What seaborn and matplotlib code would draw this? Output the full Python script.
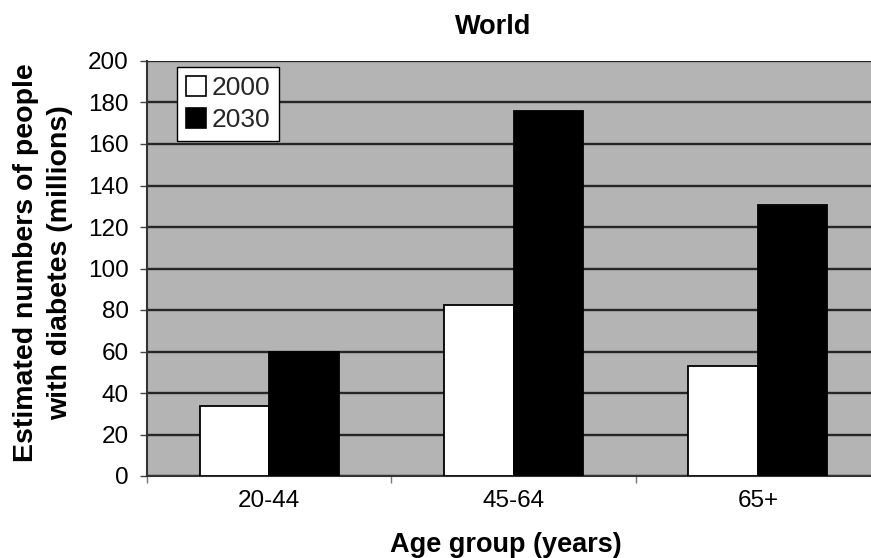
import matplotlib
matplotlib.use("Agg")
import matplotlib.pyplot as plt
import seaborn as sns
import pandas as pd
from matplotlib.patches import Patch
from matplotlib.ticker import FixedLocator

age_groups = ["20-44", "45-64", "65+"]
years = ["2000", "2030"]
values_2000 = [33.5, 82.5, 53]
values_2030 = [60, 176, 130.5]
y_ticks = [0, 20, 40, 60, 80, 100, 120, 140, 160, 180, 200]

df = pd.DataFrame({
    "age": age_groups * 2,
    "year": [years[0]] * 3 + [years[1]] * 3,
    "value": values_2000 + values_2030,
})

sns.set_theme(style="white")
plt.rcParams["font.family"] = ["Liberation Sans", "DejaVu Sans"]

fig = plt.figure(figsize=(8.71, 5.58), dpi=100, facecolor="white")
ax = fig.add_axes([147 / 871, 82 / 558, 733 / 871, 415 / 558])
ax.set_facecolor("#b4b4b4")

sns.barplot(data=df, x="age", y="value", hue="year", order=age_groups,
            hue_order=years, palette={"2000": "white", "2030": "black"},
            width=0.57, gap=0, edgecolor="black", linewidth=1.3,
            saturation=1, legend=False, ax=ax, zorder=3)

ax.set_ylim(0, 200)
ax.set_xlim(-0.5, 2.5)
ax.set_yticks(y_ticks)
ax.yaxis.grid(True, color="#262626", linewidth=1.7, zorder=1)
ax.set_axisbelow(True)
ax.tick_params(axis="y", direction="out", length=5, width=1, color="#444444",
               labelsize=17.5, pad=8, left=True)
ax.tick_params(axis="x", which="major", length=0, labelsize=17.5, pad=10)
ax.xaxis.set_minor_locator(FixedLocator([-0.5, 0.5, 1.5, 2.5]))
ax.tick_params(axis="x", which="minor", direction="out", length=5, width=1,
               color="#777777", bottom=True)
for lbl in ax.get_xticklabels() + ax.get_yticklabels():
    lbl.set_color("black")

for side in ["top", "right"]:
    ax.spines[side].set_visible(False)
ax.spines["left"].set_color("#333333")
ax.spines["left"].set_linewidth(1.5)
ax.spines["bottom"].set_color("#333333")
ax.spines["bottom"].set_linewidth(1.5)

ax.set_xlabel("Age group (years)", fontsize=19.5, fontweight="bold", color="black")
ax.xaxis.set_label_coords((506 - 147) / 733, -(545 - 476) / 415)
ax.xaxis.label.set_va("center")
ax.set_ylabel("Estimated numbers of people\nwith diabetes (millions)",
              fontsize=20.5, fontweight="bold", color="black", linespacing=1.45)
ax.yaxis.set_label_coords(-(147 - 43) / 733, (476 - 263) / 415)
ax.yaxis.label.set_va("center")

fig.text(493 / 871, 1 - 27 / 558, "World", fontsize=19.5, fontweight="bold",
         ha="center", va="center", color="black")

handles = [Patch(facecolor="white", edgecolor="black", linewidth=1.2),
           Patch(facecolor="black", edgecolor="black", linewidth=1.2)]
leg = ax.legend(handles, years, loc="upper left",
                bbox_to_anchor=((177 - 147) / 733, (476 - 67) / 415),
                borderaxespad=0, fontsize=19, frameon=True, fancybox=False,
                handlelength=0.75, handleheight=0.75, handletextpad=0.2,
                labelspacing=0.3, borderpad=0.35)
leg.get_frame().set_edgecolor("black")
leg.get_frame().set_linewidth(1.0)
leg.get_frame().set_facecolor("white")
leg.get_frame().set_alpha(1)
leg.set_zorder(5)

fig.savefig("out.png", dpi=100, facecolor="white")
